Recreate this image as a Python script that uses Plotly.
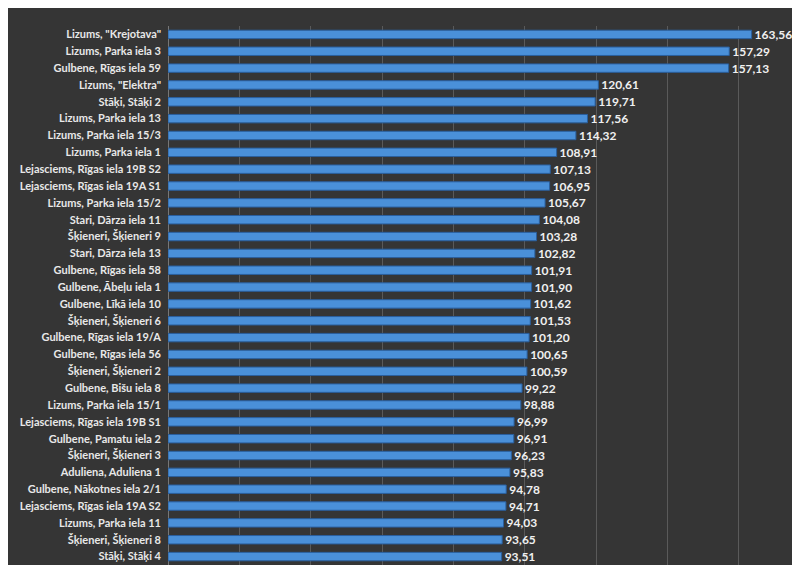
import plotly.graph_objects as go

labels = ['Lizums, "Krejotava"', 'Lizums, Parka iela 3', 'Gulbene, Rīgas iela 59', 'Lizums, "Elektra"',
          'Stāķi, Stāķi 2', 'Lizums, Parka iela 13', 'Lizums, Parka iela 15/3', 'Lizums, Parka iela 1',
          'Lejasciems, Rīgas iela 19B S2', 'Lejasciems, Rīgas iela 19A S1', 'Lizums, Parka iela 15/2',
          'Stari, Dārza iela 11', 'Šķieneri, Šķieneri 9', 'Stari, Dārza iela 13', 'Gulbene, Rīgas iela 58',
          'Gulbene, Ābeļu iela 1', 'Gulbene, Līkā iela 10', 'Šķieneri, Šķieneri 6', 'Gulbene, Rīgas iela 19/A',
          'Gulbene, Rīgas iela 56', 'Šķieneri, Šķieneri 2', 'Gulbene, Bišu iela 8', 'Lizums, Parka iela 15/1',
          'Lejasciems, Rīgas iela 19B S1', 'Gulbene, Pamatu iela 2', 'Šķieneri, Šķieneri 3',
          'Aduliena, Aduliena 1', 'Gulbene, Nākotnes iela 2/1', 'Lejasciems, Rīgas iela 19A S2',
          'Lizums, Parka iela 11', 'Šķieneri, Šķieneri 8', 'Stāķi, Stāķi 4']
values = [163.56, 157.29, 157.13, 120.61, 119.71, 117.56, 114.32, 108.91, 107.13, 106.95, 105.67,
          104.08, 103.28, 102.82, 101.91, 101.90, 101.62, 101.53, 101.20, 100.65, 100.59, 99.22,
          98.88, 96.99, 96.91, 96.23, 95.83, 94.78, 94.71, 94.03, 93.65, 93.51]

texts = [f"{v:.2f}".replace(".", ",") for v in values]

fig = go.Figure(go.Bar(
    x=values, y=labels, orientation="h",
    marker=dict(color="#4a90d9", line=dict(color="#2a5f9e", width=1)),
    width=0.5, text=texts, textposition="outside", cliponaxis=False,
    textfont=dict(color="#f0f0f0", size=12, family="Lato", weight="bold"),
))
fig.update_layout(
    width=800, height=565,
    margin=dict(l=160, r=12, t=18, b=8),
    paper_bgcolor="#353535", plot_bgcolor="#353535",
    showlegend=False, bargap=0.5,
    uniformtext=dict(minsize=12, mode="show"),
    xaxis=dict(range=[0, 176], dtick=20, showticklabels=False, gridcolor="#5a5a5a",
               zeroline=True, zerolinecolor="#777", zerolinewidth=1),
    yaxis=dict(autorange="reversed", showgrid=False, ticks="", ticklabelstandoff=6,
               tickfont=dict(color="#e8e8e8", size=11, family="Lato", weight="bold")),
)
fig.write_html("out.html")
